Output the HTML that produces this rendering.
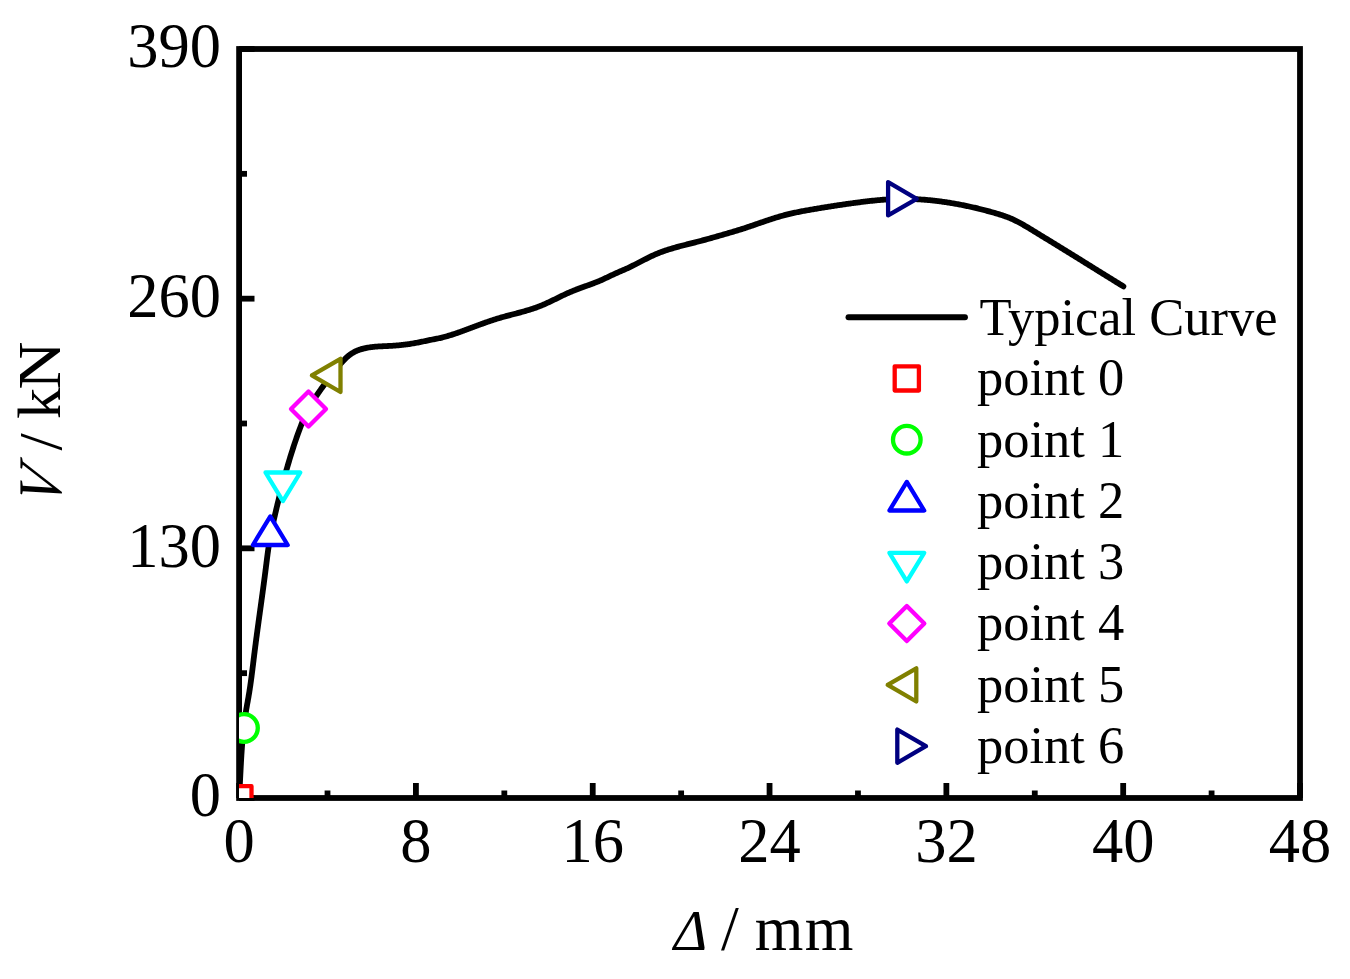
<!DOCTYPE html>
<html><head><meta charset="utf-8"><style>
html,body{margin:0;padding:0;background:#fff;width:1350px;height:979px;overflow:hidden}
svg{position:absolute;left:0;top:0;font-family:"Liberation Serif",serif}
</style></head><body>
<svg width="1350" height="979" viewBox="0 0 1350 979">
<defs><clipPath id="pc"><rect x="239.1" y="49.0" width="1060.9" height="749.0"/></clipPath></defs>
<rect x="239.1" y="49.0" width="1060.9" height="749.0" fill="none" stroke="#000" stroke-width="5.8"/>
<g stroke="#000" stroke-width="5.8" stroke-linecap="butt">
<line x1="239.10" y1="798.0" x2="239.10" y2="783.0" /><line x1="327.51" y1="798.0" x2="327.51" y2="790.5" /><line x1="415.92" y1="798.0" x2="415.92" y2="783.0" /><line x1="504.33" y1="798.0" x2="504.33" y2="790.5" /><line x1="592.73" y1="798.0" x2="592.73" y2="783.0" /><line x1="681.14" y1="798.0" x2="681.14" y2="790.5" /><line x1="769.55" y1="798.0" x2="769.55" y2="783.0" /><line x1="857.96" y1="798.0" x2="857.96" y2="790.5" /><line x1="946.37" y1="798.0" x2="946.37" y2="783.0" /><line x1="1034.78" y1="798.0" x2="1034.78" y2="790.5" /><line x1="1123.18" y1="798.0" x2="1123.18" y2="783.0" /><line x1="1211.59" y1="798.0" x2="1211.59" y2="790.5" /><line x1="1300.00" y1="798.0" x2="1300.00" y2="783.0" /><line x1="239.1" y1="798.00" x2="254.5" y2="798.00" /><line x1="239.1" y1="673.17" x2="247.0" y2="673.17" /><line x1="239.1" y1="548.33" x2="254.5" y2="548.33" /><line x1="239.1" y1="423.50" x2="247.0" y2="423.50" /><line x1="239.1" y1="298.67" x2="254.5" y2="298.67" /><line x1="239.1" y1="173.83" x2="247.0" y2="173.83" /><line x1="239.1" y1="49.00" x2="254.5" y2="49.00" />
</g>
<g clip-path="url(#pc)">
<path d="M239.10 798.00 L239.17 796.93 L239.23 795.86 L239.29 794.79 L239.35 793.71 L239.41 792.64 L239.47 791.57 L239.53 790.50 L239.59 789.43 L239.65 788.36 L239.70 787.29 L239.76 786.22 L239.82 785.14 L239.87 784.07 L239.93 783.00 L239.98 781.93 L240.03 780.86 L240.09 779.79 L240.14 778.72 L240.19 777.65 L240.25 776.58 L240.30 775.51 L240.35 774.43 L240.41 773.36 L240.46 772.29 L240.52 771.22 L240.57 770.15 L240.63 769.08 L240.68 768.01 L240.74 766.94 L240.79 765.87 L240.85 764.80 L240.91 763.73 L240.97 762.66 L241.03 761.59 L241.09 760.52 L241.15 759.45 L241.21 758.38 L241.27 757.31 L241.34 756.24 L241.40 755.17 L241.47 754.10 L241.54 753.03 L241.61 751.96 L241.68 750.89 L241.75 749.82 L241.83 748.75 L241.90 747.68 L241.98 746.61 L242.06 745.54 L242.14 744.47 L242.23 743.40 L242.31 742.33 L242.40 741.26 L242.49 740.19 L242.58 739.12 L242.68 738.05 L242.77 736.98 L242.87 735.92 L242.97 734.85 L243.08 733.78 L243.18 732.71 L243.29 731.64 L243.40 730.58 L243.52 729.51 L243.63 728.44 L243.75 727.38 L243.88 726.31 L244.00 725.25 L244.13 724.18 L244.26 723.12 L244.40 722.05 L244.54 720.99 L244.68 719.92 L244.82 718.86 L244.97 717.80 L245.12 716.74 L245.28 715.68 L245.44 714.61 L245.60 713.55 L245.76 712.50 L245.93 711.44 L246.11 710.38 L246.28 709.32 L246.47 708.26 L246.65 707.21 L246.84 706.15 L247.03 705.09 L247.21 704.04 L247.41 702.98 L247.60 701.93 L247.79 700.87 L247.98 699.82 L248.16 698.76 L248.35 697.71 L248.53 696.65 L248.71 695.59 L248.89 694.54 L249.07 693.48 L249.24 692.42 L249.41 691.36 L249.57 690.30 L249.74 689.24 L249.90 688.18 L250.06 687.12 L250.21 686.06 L250.37 685.00 L250.52 683.94 L250.67 682.88 L250.81 681.82 L250.96 680.75 L251.11 679.69 L251.25 678.63 L251.39 677.57 L251.53 676.50 L251.67 675.44 L251.80 674.38 L251.94 673.31 L252.07 672.25 L252.21 671.18 L252.34 670.12 L252.47 669.05 L252.61 667.99 L252.74 666.93 L252.87 665.86 L253.00 664.80 L253.13 663.73 L253.26 662.67 L253.39 661.60 L253.52 660.54 L253.65 659.47 L253.78 658.41 L253.91 657.34 L254.04 656.28 L254.17 655.21 L254.30 654.15 L254.43 653.08 L254.57 652.02 L254.70 650.96 L254.84 649.89 L254.97 648.83 L255.11 647.76 L255.24 646.70 L255.38 645.64 L255.52 644.57 L255.66 643.51 L255.79 642.44 L255.93 641.38 L256.07 640.32 L256.21 639.25 L256.35 638.19 L256.50 637.13 L256.64 636.06 L256.78 635.00 L256.92 633.94 L257.06 632.87 L257.21 631.81 L257.35 630.75 L257.49 629.69 L257.64 628.62 L257.78 627.56 L257.93 626.50 L258.07 625.43 L258.22 624.37 L258.36 623.31 L258.51 622.25 L258.65 621.18 L258.80 620.12 L258.94 619.06 L259.09 618.00 L259.24 616.93 L259.38 615.87 L259.53 614.81 L259.68 613.75 L259.82 612.68 L259.97 611.62 L260.12 610.56 L260.26 609.50 L260.41 608.43 L260.56 607.37 L260.70 606.31 L260.85 605.25 L261.00 604.18 L261.14 603.12 L261.29 602.06 L261.43 601.00 L261.58 599.93 L261.73 598.87 L261.87 597.81 L262.02 596.75 L262.16 595.68 L262.31 594.62 L262.45 593.56 L262.60 592.50 L262.74 591.43 L262.89 590.37 L263.03 589.31 L263.18 588.24 L263.32 587.18 L263.46 586.12 L263.60 585.06 L263.75 583.99 L263.89 582.93 L264.03 581.87 L264.17 580.80 L264.31 579.74 L264.45 578.68 L264.59 577.61 L264.73 576.55 L264.87 575.49 L265.01 574.42 L265.14 573.36 L265.28 572.30 L265.42 571.23 L265.55 570.17 L265.69 569.10 L265.82 568.04 L265.96 566.98 L266.09 565.91 L266.22 564.85 L266.36 563.78 L266.49 562.72 L266.63 561.66 L266.76 560.59 L266.89 559.53 L267.03 558.46 L267.17 557.40 L267.30 556.34 L267.44 555.27 L267.58 554.21 L267.73 553.15 L267.87 552.09 L268.02 551.03 L268.17 549.96 L268.32 548.90 L268.47 547.84 L268.63 546.78 L268.78 545.72 L268.95 544.66 L269.11 543.60 L269.28 542.55 L269.45 541.49 L269.63 540.43 L269.81 539.37 L269.99 538.32 L270.18 537.26 L270.37 536.21 L270.56 535.15 L270.77 534.10 L270.97 533.05 L271.18 532.00 L271.39 530.95 L271.61 529.90 L271.83 528.85 L272.05 527.80 L272.28 526.75 L272.51 525.70 L272.74 524.65 L272.97 523.60 L273.21 522.56 L273.44 521.51 L273.68 520.46 L273.92 519.42 L274.16 518.37 L274.40 517.32 L274.64 516.28 L274.89 515.23 L275.13 514.19 L275.37 513.14 L275.62 512.10 L275.87 511.05 L276.11 510.01 L276.36 508.96 L276.61 507.92 L276.86 506.88 L277.11 505.83 L277.36 504.79 L277.61 503.75 L277.87 502.71 L278.12 501.66 L278.38 500.62 L278.63 499.58 L278.89 498.54 L279.15 497.50 L279.41 496.46 L279.67 495.42 L279.93 494.38 L280.20 493.34 L280.46 492.30 L280.73 491.26 L280.99 490.22 L281.26 489.18 L281.53 488.14 L281.80 487.11 L282.07 486.07 L282.34 485.03 L282.62 484.00 L282.89 482.96 L283.17 481.93 L283.44 480.89 L283.72 479.86 L284.00 478.82 L284.28 477.79 L284.57 476.76 L284.85 475.72 L285.14 474.69 L285.42 473.66 L285.71 472.63 L286.00 471.60 L286.29 470.56 L286.58 469.53 L286.88 468.50 L287.17 467.47 L287.47 466.45 L287.77 465.42 L288.07 464.39 L288.37 463.36 L288.68 462.33 L288.98 461.31 L289.29 460.28 L289.60 459.25 L289.91 458.23 L290.22 457.20 L290.54 456.18 L290.86 455.15 L291.17 454.13 L291.49 453.11 L291.82 452.09 L292.14 451.06 L292.47 450.04 L292.79 449.02 L293.12 448.00 L293.46 446.98 L293.79 445.96 L294.13 444.94 L294.46 443.92 L294.80 442.90 L295.15 441.88 L295.49 440.87 L295.84 439.85 L296.19 438.83 L296.54 437.82 L296.89 436.80 L297.25 435.78 L297.60 434.77 L297.96 433.76 L298.33 432.74 L298.70 431.73 L299.07 430.72 L299.44 429.71 L299.82 428.70 L300.20 427.70 L300.58 426.69 L300.97 425.69 L301.37 424.69 L301.77 423.69 L302.17 422.70 L302.58 421.71 L302.99 420.72 L303.41 419.73 L303.84 418.74 L304.27 417.76 L304.71 416.78 L305.15 415.81 L305.60 414.84 L306.06 413.87 L306.53 412.90 L307.00 411.94 L307.48 410.99 L307.96 410.04 L308.46 409.09 L308.96 408.14 L309.47 407.21 L309.99 406.27 L310.52 405.34 L311.05 404.41 L311.59 403.49 L312.14 402.57 L312.69 401.66 L313.25 400.75 L313.82 399.84 L314.39 398.94 L314.97 398.04 L315.55 397.14 L316.14 396.24 L316.73 395.35 L317.33 394.46 L317.93 393.58 L318.54 392.69 L319.15 391.81 L319.77 390.93 L320.39 390.06 L321.01 389.18 L321.64 388.31 L322.27 387.44 L322.90 386.57 L323.54 385.70 L324.18 384.84 L324.82 383.98 L325.46 383.11 L326.10 382.25 L326.75 381.39 L327.40 380.53 L328.05 379.68 L328.69 378.82 L329.35 377.96 L330.00 377.11 L330.65 376.25 L331.30 375.39 L331.95 374.54 L332.60 373.69 L333.26 372.83 L333.92 371.98 L334.57 371.13 L335.24 370.29 L335.90 369.44 L336.57 368.60 L337.24 367.77 L337.92 366.94 L338.60 366.11 L339.29 365.29 L339.99 364.47 L340.69 363.66 L341.41 362.85 L342.12 362.05 L342.85 361.26 L343.59 360.48 L344.34 359.70 L345.09 358.93 L345.86 358.18 L346.65 357.44 L347.44 356.72 L348.25 356.02 L349.08 355.34 L349.92 354.69 L350.78 354.07 L351.66 353.48 L352.55 352.92 L353.47 352.39 L354.40 351.88 L355.35 351.41 L356.31 350.97 L357.29 350.55 L358.28 350.16 L359.28 349.80 L360.29 349.46 L361.31 349.14 L362.35 348.84 L363.39 348.57 L364.44 348.31 L365.49 348.08 L366.55 347.87 L367.62 347.67 L368.69 347.49 L369.76 347.33 L370.83 347.18 L371.91 347.04 L372.99 346.92 L374.06 346.81 L375.13 346.71 L376.21 346.63 L377.28 346.55 L378.35 346.48 L379.42 346.41 L380.49 346.36 L381.56 346.30 L382.63 346.25 L383.70 346.20 L384.77 346.16 L385.84 346.11 L386.90 346.06 L387.97 346.01 L389.04 345.96 L390.11 345.90 L391.18 345.84 L392.25 345.77 L393.31 345.70 L394.38 345.63 L395.45 345.55 L396.52 345.46 L397.59 345.37 L398.65 345.28 L399.72 345.18 L400.78 345.08 L401.85 344.97 L402.91 344.85 L403.98 344.73 L405.04 344.60 L406.11 344.46 L407.17 344.32 L408.23 344.17 L409.29 344.02 L410.35 343.85 L411.41 343.68 L412.47 343.51 L413.52 343.32 L414.58 343.14 L415.63 342.94 L416.69 342.74 L417.74 342.54 L418.80 342.33 L419.85 342.12 L420.90 341.91 L421.95 341.69 L423.01 341.48 L424.06 341.26 L425.11 341.04 L426.16 340.82 L427.21 340.60 L428.26 340.39 L429.31 340.17 L430.36 339.96 L431.42 339.74 L432.47 339.53 L433.52 339.33 L434.57 339.12 L435.62 338.92 L436.67 338.71 L437.72 338.50 L438.77 338.28 L439.81 338.06 L440.86 337.82 L441.90 337.57 L442.93 337.31 L443.97 337.05 L445.00 336.77 L446.03 336.49 L447.06 336.20 L448.09 335.90 L449.12 335.59 L450.14 335.28 L451.16 334.96 L452.18 334.63 L453.20 334.30 L454.22 333.97 L455.24 333.62 L456.25 333.28 L457.27 332.93 L458.28 332.57 L459.29 332.22 L460.30 331.85 L461.31 331.49 L462.32 331.12 L463.33 330.75 L464.34 330.38 L465.35 330.01 L466.36 329.63 L467.36 329.26 L468.37 328.88 L469.38 328.51 L470.38 328.13 L471.39 327.75 L472.39 327.37 L473.40 327.00 L474.40 326.62 L475.41 326.25 L476.41 325.87 L477.42 325.50 L478.43 325.13 L479.43 324.76 L480.44 324.39 L481.45 324.02 L482.45 323.66 L483.46 323.30 L484.47 322.93 L485.48 322.58 L486.49 322.22 L487.51 321.87 L488.52 321.52 L489.53 321.17 L490.55 320.83 L491.56 320.49 L492.58 320.15 L493.60 319.82 L494.62 319.49 L495.64 319.17 L496.67 318.85 L497.69 318.53 L498.72 318.22 L499.75 317.92 L500.78 317.62 L501.81 317.32 L502.84 317.03 L503.87 316.74 L504.91 316.45 L505.95 316.17 L506.98 315.89 L508.02 315.62 L509.06 315.34 L510.10 315.07 L511.14 314.79 L512.18 314.52 L513.22 314.25 L514.26 313.98 L515.30 313.71 L516.34 313.43 L517.38 313.16 L518.42 312.88 L519.46 312.61 L520.49 312.33 L521.53 312.05 L522.56 311.76 L523.60 311.47 L524.63 311.18 L525.66 310.89 L526.69 310.59 L527.72 310.28 L528.74 309.97 L529.77 309.66 L530.79 309.34 L531.81 309.01 L532.82 308.68 L533.84 308.34 L534.85 307.99 L535.86 307.64 L536.86 307.27 L537.86 306.90 L538.86 306.52 L539.86 306.13 L540.85 305.73 L541.84 305.33 L542.83 304.91 L543.81 304.49 L544.79 304.06 L545.77 303.62 L546.74 303.18 L547.72 302.73 L548.69 302.28 L549.66 301.83 L550.63 301.37 L551.59 300.90 L552.56 300.43 L553.53 299.97 L554.49 299.49 L555.46 299.02 L556.42 298.55 L557.39 298.08 L558.35 297.60 L559.32 297.13 L560.28 296.66 L561.25 296.19 L562.22 295.73 L563.19 295.26 L564.16 294.81 L565.13 294.35 L566.11 293.90 L567.08 293.45 L568.06 293.01 L569.04 292.58 L570.02 292.15 L571.01 291.73 L572.00 291.31 L572.99 290.91 L573.99 290.50 L574.98 290.11 L575.98 289.71 L576.98 289.33 L577.98 288.94 L578.98 288.56 L579.99 288.19 L580.99 287.82 L582.00 287.45 L583.01 287.08 L584.02 286.71 L585.03 286.35 L586.04 285.99 L587.05 285.63 L588.06 285.27 L589.07 284.91 L590.08 284.54 L591.09 284.18 L592.09 283.81 L593.10 283.44 L594.10 283.06 L595.10 282.67 L596.10 282.29 L597.10 281.89 L598.09 281.49 L599.08 281.07 L600.06 280.65 L601.05 280.22 L602.02 279.79 L603.00 279.34 L603.97 278.89 L604.95 278.44 L605.92 277.98 L606.89 277.52 L607.85 277.06 L608.82 276.60 L609.79 276.14 L610.76 275.68 L611.73 275.22 L612.70 274.77 L613.67 274.32 L614.65 273.87 L615.63 273.43 L616.61 273.00 L617.59 272.57 L618.57 272.14 L619.55 271.71 L620.54 271.29 L621.52 270.86 L622.50 270.44 L623.49 270.01 L624.47 269.58 L625.45 269.14 L626.43 268.71 L627.40 268.26 L628.38 267.82 L629.35 267.36 L630.32 266.90 L631.28 266.43 L632.24 265.95 L633.21 265.47 L634.16 264.99 L635.12 264.50 L636.08 264.01 L637.03 263.52 L637.99 263.02 L638.94 262.52 L639.89 262.02 L640.84 261.53 L641.80 261.03 L642.75 260.53 L643.70 260.03 L644.66 259.54 L645.61 259.05 L646.57 258.56 L647.53 258.08 L648.49 257.60 L649.45 257.13 L650.41 256.66 L651.38 256.20 L652.35 255.75 L653.32 255.30 L654.30 254.86 L655.28 254.43 L656.26 254.01 L657.25 253.60 L658.24 253.20 L659.23 252.81 L660.23 252.42 L661.23 252.05 L662.23 251.68 L663.23 251.31 L664.24 250.96 L665.25 250.61 L666.27 250.27 L667.28 249.94 L668.30 249.61 L669.32 249.28 L670.35 248.97 L671.37 248.65 L672.40 248.35 L673.43 248.04 L674.46 247.75 L675.49 247.45 L676.52 247.16 L677.56 246.88 L678.60 246.59 L679.63 246.31 L680.67 246.04 L681.71 245.76 L682.75 245.49 L683.79 245.22 L684.83 244.95 L685.88 244.69 L686.92 244.42 L687.96 244.16 L689.01 243.90 L690.05 243.63 L691.09 243.37 L692.14 243.11 L693.18 242.85 L694.22 242.58 L695.26 242.32 L696.31 242.05 L697.35 241.79 L698.39 241.52 L699.43 241.25 L700.47 240.98 L701.50 240.70 L702.54 240.43 L703.58 240.15 L704.61 239.87 L705.65 239.59 L706.68 239.31 L707.71 239.02 L708.75 238.74 L709.78 238.45 L710.81 238.16 L711.84 237.87 L712.87 237.58 L713.90 237.29 L714.93 236.99 L715.96 236.70 L716.99 236.41 L718.02 236.11 L719.05 235.81 L720.08 235.52 L721.10 235.22 L722.13 234.92 L723.16 234.62 L724.19 234.32 L725.22 234.02 L726.24 233.73 L727.27 233.43 L728.30 233.13 L729.33 232.83 L730.36 232.53 L731.39 232.23 L732.42 231.93 L733.45 231.63 L734.48 231.32 L735.50 231.02 L736.53 230.71 L737.56 230.40 L738.58 230.09 L739.61 229.77 L740.63 229.45 L741.65 229.13 L742.67 228.80 L743.69 228.47 L744.71 228.14 L745.73 227.80 L746.75 227.46 L747.77 227.12 L748.78 226.78 L749.80 226.43 L750.81 226.08 L751.83 225.74 L752.84 225.39 L753.86 225.04 L754.87 224.68 L755.88 224.33 L756.90 223.98 L757.91 223.63 L758.92 223.28 L759.94 222.93 L760.95 222.57 L761.96 222.22 L762.98 221.88 L763.99 221.53 L765.01 221.18 L766.02 220.84 L767.04 220.49 L768.05 220.15 L769.07 219.81 L770.09 219.48 L771.11 219.15 L772.13 218.82 L773.15 218.49 L774.17 218.17 L775.19 217.85 L776.21 217.53 L777.24 217.22 L778.27 216.91 L779.29 216.61 L780.32 216.31 L781.35 216.02 L782.38 215.73 L783.42 215.45 L784.45 215.17 L785.49 214.90 L786.53 214.63 L787.57 214.38 L788.61 214.12 L789.65 213.87 L790.70 213.63 L791.74 213.39 L792.79 213.15 L793.84 212.92 L794.89 212.69 L795.94 212.47 L796.99 212.25 L798.04 212.04 L799.10 211.83 L800.15 211.62 L801.20 211.41 L802.26 211.21 L803.32 211.01 L804.37 210.82 L805.43 210.62 L806.49 210.43 L807.55 210.24 L808.60 210.06 L809.66 209.87 L810.72 209.68 L811.78 209.50 L812.84 209.32 L813.90 209.14 L814.96 208.96 L816.01 208.78 L817.07 208.60 L818.13 208.43 L819.19 208.25 L820.25 208.07 L821.31 207.90 L822.36 207.73 L823.42 207.55 L824.48 207.38 L825.54 207.21 L826.60 207.04 L827.65 206.87 L828.71 206.70 L829.77 206.53 L830.83 206.37 L831.89 206.20 L832.95 206.04 L834.00 205.87 L835.06 205.71 L836.12 205.55 L837.18 205.39 L838.24 205.23 L839.30 205.07 L840.36 204.91 L841.42 204.76 L842.48 204.60 L843.54 204.45 L844.60 204.29 L845.66 204.14 L846.72 203.99 L847.78 203.84 L848.84 203.69 L849.90 203.54 L850.96 203.40 L852.03 203.25 L853.09 203.11 L854.15 202.96 L855.21 202.82 L856.28 202.68 L857.34 202.54 L858.41 202.40 L859.47 202.26 L860.53 202.13 L861.60 201.99 L862.66 201.86 L863.73 201.73 L864.80 201.60 L865.86 201.47 L866.93 201.35 L868.00 201.22 L869.06 201.10 L870.13 200.98 L871.20 200.87 L872.27 200.75 L873.34 200.64 L874.40 200.53 L875.47 200.42 L876.54 200.32 L877.61 200.22 L878.68 200.12 L879.75 200.03 L880.82 199.94 L881.89 199.85 L882.96 199.76 L884.03 199.68 L885.10 199.60 L886.17 199.53 L887.24 199.46 L888.31 199.39 L889.38 199.33 L890.46 199.27 L891.53 199.22 L892.60 199.17 L893.67 199.12 L894.74 199.08 L895.81 199.04 L896.88 199.01 L897.96 198.98 L899.03 198.96 L900.10 198.94 L901.17 198.93 L902.24 198.92 L903.32 198.92 L904.39 198.92 L905.46 198.92 L906.53 198.93 L907.60 198.94 L908.67 198.96 L909.75 198.99 L910.82 199.01 L911.89 199.05 L912.96 199.08 L914.03 199.12 L915.10 199.17 L916.17 199.22 L917.24 199.27 L918.31 199.33 L919.38 199.39 L920.45 199.46 L921.52 199.53 L922.59 199.60 L923.66 199.68 L924.73 199.76 L925.80 199.85 L926.87 199.94 L927.94 200.03 L929.01 200.13 L930.07 200.23 L931.14 200.34 L932.21 200.45 L933.27 200.56 L934.34 200.68 L935.41 200.80 L936.47 200.93 L937.54 201.06 L938.60 201.19 L939.67 201.33 L940.73 201.47 L941.79 201.61 L942.86 201.76 L943.92 201.91 L944.98 202.06 L946.04 202.22 L947.10 202.38 L948.16 202.54 L949.22 202.71 L950.28 202.88 L951.34 203.06 L952.40 203.24 L953.46 203.42 L954.51 203.60 L955.57 203.79 L956.63 203.98 L957.68 204.18 L958.74 204.37 L959.79 204.57 L960.84 204.78 L961.90 204.99 L962.95 205.20 L964.00 205.41 L965.05 205.62 L966.10 205.84 L967.15 206.06 L968.20 206.29 L969.24 206.52 L970.29 206.75 L971.34 206.98 L972.38 207.22 L973.43 207.46 L974.47 207.70 L975.51 207.94 L976.56 208.19 L977.60 208.44 L978.64 208.70 L979.68 208.95 L980.72 209.21 L981.76 209.47 L982.80 209.74 L983.84 210.01 L984.88 210.28 L985.92 210.55 L986.95 210.83 L987.99 211.10 L989.03 211.39 L990.06 211.67 L991.10 211.96 L992.13 212.25 L993.17 212.54 L994.20 212.83 L995.24 213.13 L996.27 213.43 L997.30 213.74 L998.33 214.05 L999.36 214.36 L1000.39 214.68 L1001.41 215.01 L1002.43 215.34 L1003.45 215.68 L1004.46 216.04 L1005.47 216.39 L1006.48 216.76 L1007.48 217.14 L1008.48 217.53 L1009.47 217.94 L1010.46 218.35 L1011.44 218.77 L1012.42 219.21 L1013.39 219.65 L1014.35 220.11 L1015.32 220.57 L1016.28 221.05 L1017.23 221.53 L1018.18 222.02 L1019.13 222.52 L1020.08 223.03 L1021.02 223.54 L1021.95 224.06 L1022.89 224.58 L1023.82 225.11 L1024.75 225.65 L1025.68 226.19 L1026.61 226.73 L1027.53 227.28 L1028.45 227.83 L1029.37 228.39 L1030.29 228.94 L1031.21 229.50 L1032.13 230.06 L1033.04 230.63 L1033.96 231.19 L1034.88 231.75 L1035.79 232.32 L1036.71 232.88 L1037.62 233.44 L1038.54 234.00 L1039.45 234.56 L1040.37 235.12 L1041.28 235.68 L1042.20 236.24 L1043.11 236.80 L1044.03 237.36 L1044.94 237.92 L1045.86 238.48 L1046.77 239.03 L1047.69 239.59 L1048.60 240.15 L1049.52 240.71 L1050.43 241.27 L1051.35 241.83 L1052.26 242.39 L1053.18 242.94 L1054.09 243.50 L1055.00 244.06 L1055.92 244.62 L1056.83 245.19 L1057.75 245.75 L1058.66 246.31 L1059.57 246.87 L1060.49 247.43 L1061.40 247.99 L1062.31 248.55 L1063.22 249.12 L1064.14 249.68 L1065.05 250.24 L1065.96 250.81 L1066.87 251.37 L1067.79 251.93 L1068.70 252.50 L1069.61 253.06 L1070.52 253.63 L1071.43 254.19 L1072.35 254.76 L1073.26 255.32 L1074.17 255.88 L1075.08 256.45 L1075.99 257.02 L1076.90 257.58 L1077.82 258.15 L1078.73 258.71 L1079.64 259.28 L1080.55 259.84 L1081.46 260.41 L1082.37 260.98 L1083.28 261.54 L1084.20 262.11 L1085.11 262.67 L1086.02 263.24 L1086.93 263.81 L1087.84 264.37 L1088.75 264.94 L1089.66 265.51 L1090.57 266.07 L1091.48 266.64 L1092.40 267.21 L1093.31 267.77 L1094.22 268.34 L1095.13 268.90 L1096.04 269.47 L1096.95 270.04 L1097.86 270.60 L1098.77 271.17 L1099.68 271.74 L1100.60 272.30 L1101.51 272.87 L1102.42 273.43 L1103.33 274.00 L1104.24 274.56 L1105.15 275.13 L1106.06 275.70 L1106.98 276.26 L1107.89 276.83 L1108.80 277.39 L1109.71 277.96 L1110.62 278.52 L1111.54 279.08 L1112.45 279.65 L1113.36 280.21 L1114.27 280.78 L1115.18 281.34 L1116.10 281.90 L1117.01 282.47 L1117.92 283.03 L1118.83 283.59 L1119.75 284.15 L1120.66 284.72 L1121.57 285.28 L1122.49 285.84 L1123.40 286.40" fill="none" stroke="#000" stroke-width="5.8" stroke-linecap="round" stroke-linejoin="round"/>
<rect x="227.3" y="786.2" width="24.2" height="24.2" fill="#fff" stroke="#ff0000" stroke-width="4.3" stroke-linejoin="round"/><circle cx="244.0" cy="728.0" r="13.8" fill="#fff" stroke="#00ff00" stroke-width="4.3"/><polygon points="270.3,516.4 287.7,545.0 252.9,545.0" fill="#fff" stroke="#0000ff" stroke-width="4.3" stroke-linejoin="round"/><polygon points="282.9,501.1 300.3,472.5 265.5,472.5" fill="#fff" stroke="#00ffff" stroke-width="4.3" stroke-linejoin="round"/><polygon points="308.5,391.5 326.0,409.0 308.5,426.5 291.0,409.0" fill="#fff" stroke="#ff00ff" stroke-width="4.3" stroke-linejoin="round"/><polygon points="311.9,375.4 340.5,358.8 340.5,392.0" fill="#fff" stroke="#808000" stroke-width="4.3" stroke-linejoin="round"/><polygon points="916.7,198.8 888.1,182.2 888.1,215.4" fill="#fff" stroke="#000080" stroke-width="4.3" stroke-linejoin="round"/>
</g>
<g font-size="62.5" fill="#000">
<text x="239.1" y="861.8" text-anchor="middle">0</text><text x="415.9" y="861.8" text-anchor="middle">8</text><text x="592.7" y="861.8" text-anchor="middle">16</text><text x="769.6" y="861.8" text-anchor="middle">24</text><text x="946.4" y="861.8" text-anchor="middle">32</text><text x="1123.2" y="861.8" text-anchor="middle">40</text><text x="1300.0" y="861.8" text-anchor="middle">48</text>
<text x="221" y="816.2" text-anchor="end">0</text><text x="221" y="566.5" text-anchor="end">130</text><text x="221" y="316.9" text-anchor="end">260</text><text x="221" y="67.2" text-anchor="end">390</text>
</g>
<text transform="translate(690.4,949.8) skewX(0) scale(1,1)" font-size="57" text-anchor="middle" font-style="italic">Δ</text>
<text transform="translate(730,949.8) skewX(0) scale(1,1)" font-size="64" text-anchor="middle">/</text>
<text transform="translate(779,949.8) skewX(0) scale(1.0,1)" font-size="62.5" text-anchor="middle">m</text>
<text transform="translate(829,949.8) skewX(0) scale(1.0,1)" font-size="62.5" text-anchor="middle">m</text>
<text transform="translate(60.4,365.5) rotate(-90) skewX(0) scale(1.08,1)" font-size="62" text-anchor="middle">N</text>
<text transform="translate(60.4,403.5) rotate(-90) skewX(0) scale(1,1)" font-size="62" text-anchor="middle">k</text>
<text transform="translate(60.6,441.9) rotate(-90) skewX(0) scale(1,1)" font-size="62" text-anchor="middle">/</text>
<text transform="translate(61,490.5) rotate(-90) skewX(-15) scale(0.92,1)" font-size="62" text-anchor="middle" font-style="italic">V</text>
<line x1="848.5" y1="317.2" x2="965" y2="317.2" stroke="#000" stroke-width="5.9" stroke-linecap="round"/>
<rect x="894.7" y="366.3" width="24.2" height="24.2" fill="#fff" stroke="#ff0000" stroke-width="4.3" stroke-linejoin="round"/><circle cx="906.8" cy="439.7" r="13.8" fill="#fff" stroke="#00ff00" stroke-width="4.3"/><polygon points="906.8,481.9 924.2,510.5 889.4,510.5" fill="#fff" stroke="#0000ff" stroke-width="4.3" stroke-linejoin="round"/><polygon points="906.8,581.4 924.2,552.8 889.4,552.8" fill="#fff" stroke="#00ffff" stroke-width="4.3" stroke-linejoin="round"/><polygon points="906.8,606.1 924.3,623.6 906.8,641.1 889.3,623.6" fill="#fff" stroke="#ff00ff" stroke-width="4.3" stroke-linejoin="round"/><polygon points="887.7,684.9 916.3,668.3 916.3,701.5" fill="#fff" stroke="#808000" stroke-width="4.3" stroke-linejoin="round"/><polygon points="925.9,746.2 897.3,729.6 897.3,762.8" fill="#fff" stroke="#000080" stroke-width="4.3" stroke-linejoin="round"/>
<g font-size="52.5" fill="#000">
<text x="979.5" y="334.5">Typical Curve</text><text x="977" y="395.2">point 0</text><text x="977" y="456.5">point 1</text><text x="977" y="517.8">point 2</text><text x="977" y="579.1">point 3</text><text x="977" y="640.4">point 4</text><text x="977" y="701.7">point 5</text><text x="977" y="763.0">point 6</text>
</g>
</svg>
</body></html>
